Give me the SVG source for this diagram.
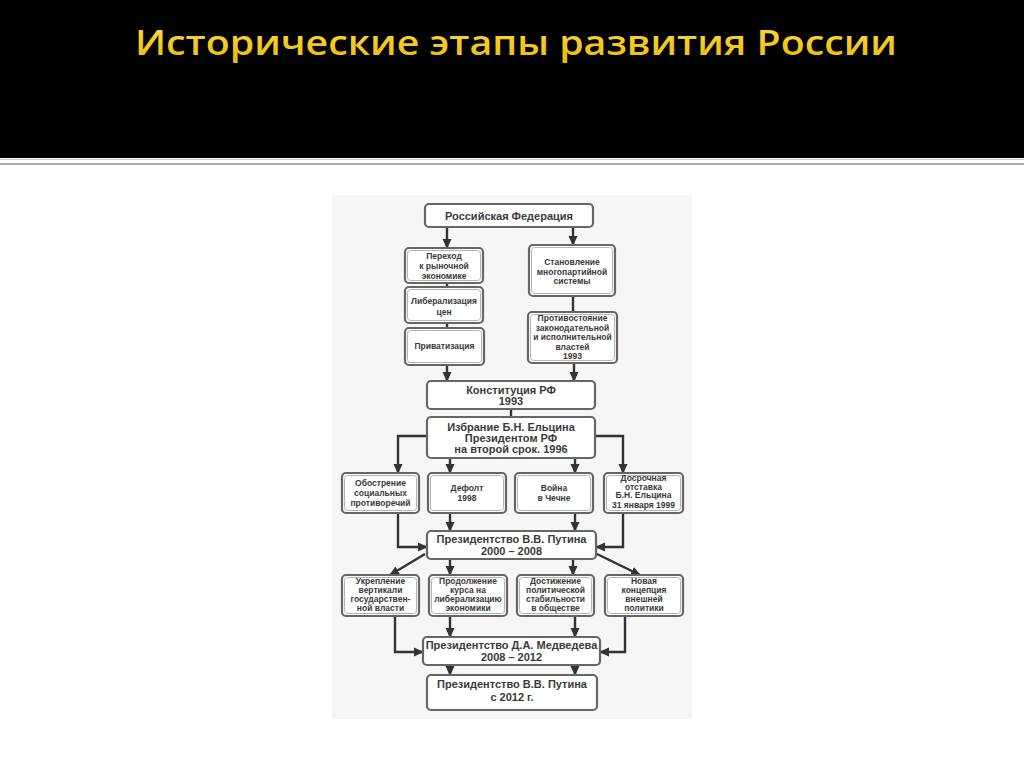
<svg xmlns="http://www.w3.org/2000/svg" width="1024" height="767" viewBox="0 0 1024 767">
<defs>
<linearGradient id="ttl" x1="0" y1="0" x2="0" y2="1">
<stop offset="0" stop-color="#ffe04a"/>
<stop offset="1" stop-color="#e8b800"/>
</linearGradient>
<marker id="ah" markerUnits="userSpaceOnUse" markerWidth="10" markerHeight="10" viewBox="0 0 10 10" refX="9" refY="5" orient="auto">
<path d="M0,0.5 L10,5 L0,9.5 Z" fill="#333"/>
</marker>
</defs>
<style>
.b{fill:#fff;stroke:#666;stroke-width:2.2}
.bi{fill:none;stroke:#b5b5b5;stroke-width:1}
.s{font-family:"Liberation Sans",Arial,sans-serif;font-weight:bold;font-size:8.5px;fill:#3a3a3a;text-anchor:middle}
.m{font-family:"Liberation Sans",Arial,sans-serif;font-weight:bold;font-size:11px;fill:#3a3a3a;text-anchor:middle}
.c{fill:none;stroke:#333;stroke-width:2.4}
.a{marker-end:url(#ah)}
</style>
<rect x="0" y="0" width="1024" height="767" fill="#fff"/>
<rect x="0" y="0" width="1024" height="158" fill="#000"/>
<rect x="0" y="159" width="1024" height="1" fill="#cfcfcf"/>
<rect x="0" y="163" width="1024" height="2" fill="#ababab"/>
<text x="135" y="55" textLength="762" lengthAdjust="spacingAndGlyphs" font-family="'Open Sans',sans-serif" font-weight="600" font-size="35" fill="url(#ttl)">Исторические этапы развития России</text>
<rect x="332" y="195" width="360" height="524" fill="#f6f6f6"/>

<g id="connectors">
<line class="c a" x1="447" y1="227" x2="447" y2="248"/>
<line class="c a" x1="573" y1="227" x2="573" y2="245"/>
<line class="c" x1="447" y1="283" x2="447" y2="287"/>
<line class="c" x1="447" y1="323" x2="447" y2="328"/>
<line class="c" x1="573" y1="296" x2="573" y2="312"/>
<line class="c a" x1="447" y1="365" x2="447" y2="381"/>
<line class="c a" x1="574" y1="363" x2="574" y2="381"/>
<line class="c" x1="511" y1="409" x2="511" y2="417"/>
<polyline class="c a" points="427,436 398,436 398,473"/>
<line class="c a" x1="450" y1="458" x2="450" y2="473"/>
<line class="c a" x1="575" y1="458" x2="575" y2="473"/>
<polyline class="c a" points="595,436 623,436 623,473"/>
<polyline class="c a" points="398,513 398,547 427,547"/>
<line class="c a" x1="450" y1="513" x2="450" y2="531"/>
<line class="c a" x1="575" y1="513" x2="575" y2="531"/>
<polyline class="c a" points="623,513 623,547 596,547"/>
<line class="c a" x1="425" y1="554" x2="390" y2="575"/>
<line class="c a" x1="450" y1="559" x2="450" y2="575"/>
<line class="c a" x1="573" y1="559" x2="573" y2="575"/>
<line class="c a" x1="597" y1="554" x2="640" y2="575"/>
<polyline class="c a" points="395,616 395,652 423,652"/>
<line class="c a" x1="450" y1="617" x2="450" y2="637"/>
<line class="c a" x1="575" y1="617" x2="575" y2="637"/>
<polyline class="c a" points="625,616 625,652 600,652"/>
<line class="c a" x1="450" y1="665" x2="450" y2="675"/>
<line class="c a" x1="575" y1="665" x2="575" y2="675"/>
</g>

<g id="rf">
<rect class="b" x="425" y="204" width="168" height="23" rx="4"/>
<text class="m" x="509" y="220">Российская Федерация</text>
</g>
<g id="perehod">
<rect class="b" x="405" y="248" width="78" height="35" rx="4"/>
<rect class="bi" x="407.5" y="250.5" width="73" height="30" rx="3"/>
<text class="s" x="444" y="259">Переход</text>
<text class="s" x="444" y="269">к рыночной</text>
<text class="s" x="444" y="279">экономике</text>
</g>
<g id="liberal">
<rect class="b" x="405" y="287" width="78" height="36" rx="4"/>
<rect class="bi" x="407.5" y="289.5" width="73" height="31" rx="3"/>
<text class="s" x="444" y="304">Либерализация</text>
<text class="s" x="444" y="315">цен</text>
</g>
<g id="privat">
<rect class="b" x="405" y="328" width="79" height="37" rx="4"/>
<rect class="bi" x="407.5" y="330.5" width="74" height="32" rx="3"/>
<text class="s" x="444.5" y="349">Приватизация</text>
</g>
<g id="stanovlenie">
<rect class="b" x="529" y="245" width="86" height="51" rx="4"/>
<rect class="bi" x="531.5" y="247.5" width="81" height="46" rx="3"/>
<text class="s" x="572" y="265">Становление</text>
<text class="s" x="572" y="274.5">многопартийной</text>
<text class="s" x="572" y="284">системы</text>
</g>
<g id="protiv">
<rect class="b" x="528" y="312" width="89" height="51" rx="4"/>
<rect class="bi" x="530.5" y="314.5" width="84" height="46" rx="3"/>
<text class="s" x="572.5" y="321">Противостояние</text>
<text class="s" x="572.5" y="330.5">законодательной</text>
<text class="s" x="572.5" y="340">и исполнительной</text>
<text class="s" x="572.5" y="349.5">властей</text>
<text class="s" x="572.5" y="359">1993</text>
</g>
<g id="konst">
<rect class="b" x="427" y="381" width="168" height="28" rx="4"/>
<text class="m" x="511" y="393.5">Конституция РФ</text>
<text class="m" x="511" y="405">1993</text>
</g>
<g id="izbranie">
<rect class="b" x="427" y="417" width="168" height="41" rx="4"/>
<text class="m" x="511" y="431">Избрание Б.Н. Ельцина</text>
<text class="m" x="511" y="442">Президентом РФ</text>
<text class="m" x="511" y="453">на второй срок. 1996</text>
</g>
<g id="obostrenie">
<rect class="b" x="342" y="473" width="77" height="40" rx="4"/>
<rect class="bi" x="344.5" y="475.5" width="72" height="35" rx="3"/>
<text class="s" x="380.5" y="486">Обострение</text>
<text class="s" x="380.5" y="496">социальных</text>
<text class="s" x="380.5" y="505.5">противоречий</text>
</g>
<g id="default">
<rect class="b" x="428" y="473" width="78" height="40" rx="4"/>
<rect class="bi" x="430.5" y="475.5" width="73" height="35" rx="3"/>
<text class="s" x="467" y="491">Дефолт</text>
<text class="s" x="467" y="501">1998</text>
</g>
<g id="voina">
<rect class="b" x="515" y="473" width="78" height="40" rx="4"/>
<rect class="bi" x="517.5" y="475.5" width="73" height="35" rx="3"/>
<text class="s" x="554" y="491">Война</text>
<text class="s" x="554" y="501">в Чечне</text>
</g>
<g id="dosrochnaya">
<rect class="b" x="604" y="473" width="79" height="40" rx="4"/>
<rect class="bi" x="606.5" y="475.5" width="74" height="35" rx="3"/>
<text class="s" x="643.5" y="481">Досрочная</text>
<text class="s" x="643.5" y="489.5">отставка</text>
<text class="s" x="643.5" y="498">Б.Н. Ельцина</text>
<text class="s" x="643.5" y="507.5">31 января 1999</text>
</g>
<g id="putin1">
<rect class="b" x="427" y="531" width="169" height="28" rx="4"/>
<text class="m" x="511.5" y="543">Президентство В.В. Путина</text>
<text class="m" x="511.5" y="555">2000 – 2008</text>
</g>
<g id="ukreplenie">
<rect class="b" x="342" y="575" width="77" height="41" rx="4"/>
<rect class="bi" x="344.5" y="577.5" width="72" height="36" rx="3"/>
<text class="s" x="380.5" y="584">Укрепление</text>
<text class="s" x="380.5" y="593">вертикали</text>
<text class="s" x="380.5" y="602">государствен-</text>
<text class="s" x="380.5" y="611">ной власти</text>
</g>
<g id="prodolzhenie">
<rect class="b" x="429" y="575" width="78" height="41" rx="4"/>
<rect class="bi" x="431.5" y="577.5" width="73" height="36" rx="3"/>
<text class="s" x="468" y="584">Продолжение</text>
<text class="s" x="468" y="593">курса на</text>
<text class="s" x="468" y="602">либерализацию</text>
<text class="s" x="468" y="611">экономики</text>
</g>
<g id="dostizhenie">
<rect class="b" x="517" y="575" width="77" height="41" rx="4"/>
<rect class="bi" x="519.5" y="577.5" width="72" height="36" rx="3"/>
<text class="s" x="555.5" y="584">Достижение</text>
<text class="s" x="555.5" y="593">политической</text>
<text class="s" x="555.5" y="602">стабильности</text>
<text class="s" x="555.5" y="611">в обществе</text>
</g>
<g id="novaya">
<rect class="b" x="605" y="575" width="78" height="41" rx="4"/>
<rect class="bi" x="607.5" y="577.5" width="73" height="36" rx="3"/>
<text class="s" x="644" y="584">Новая</text>
<text class="s" x="644" y="593">концепция</text>
<text class="s" x="644" y="602">внешней</text>
<text class="s" x="644" y="611">политики</text>
</g>
<g id="medvedev">
<rect class="b" x="423" y="637" width="177" height="28" rx="4"/>
<text class="m" x="511.5" y="649">Президентство Д.А. Медведева</text>
<text class="m" x="511.5" y="661">2008 – 2012</text>
</g>
<g id="putin2">
<rect class="b" x="427" y="675" width="170" height="35" rx="4"/>
<text class="m" x="512" y="688">Президентство В.В. Путина</text>
<text class="m" x="512" y="701">с 2012 г.</text>
</g>
</svg>
